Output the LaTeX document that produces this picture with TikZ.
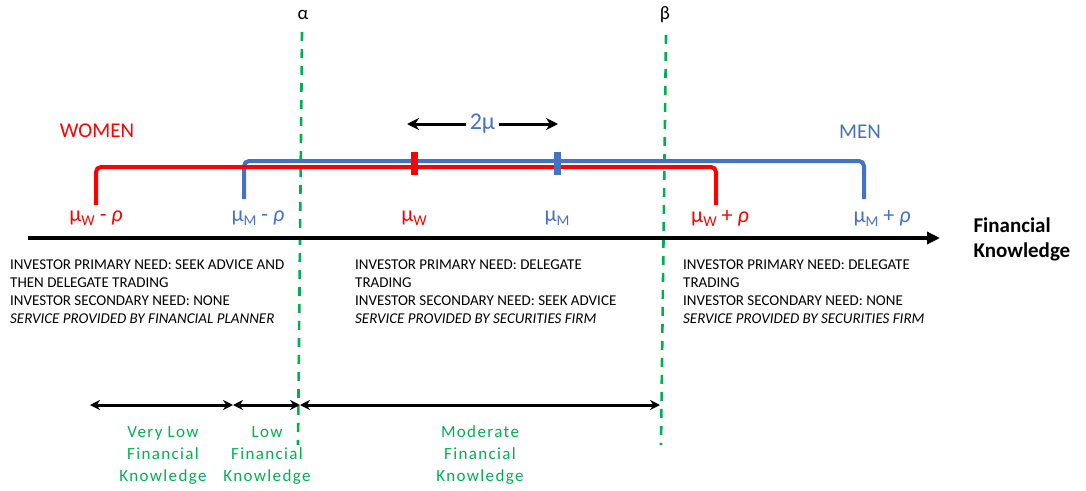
\documentclass[tikz,border=0pt]{standalone}
\usepackage{fontspec}
\setmainfont{Carlito}
\usetikzlibrary{arrows.meta}
\definecolor{wred}{RGB}{255,0,0}
\definecolor{mblue}{RGB}{68,114,196}
\definecolor{kgreen}{RGB}{0,176,80}
\newcommand{\lowsub}[1]{\raisebox{-4pt}{\fontsize{15}{16}\selectfont #1}}

\begin{document}
\begin{tikzpicture}[x=1pt,y=-1pt,
		axis/.style={line width=3.6pt,-{Triangle[length=13pt,width=12pt]}},
		kspan/.style={line width=3pt,{Stealth[length=10pt,width=10pt]}-{Stealth[length=10pt,width=10pt]}},
		level/.style={kgreen,dash pattern=on 9pt off 8pt,line width=2.6pt},
		bracket/.style={line width=4pt,rounded corners=5pt},
		tickbar/.style={line width=7pt},
		lbl/.style={font=\fontsize{22}{24}\selectfont},
		need/.style={anchor=north west,align=left,inner sep=0pt,font=\fontsize{15}{17.7}\selectfont},
		klabel/.style={kgreen,align=center,font=\fontsize{17}{22}\selectfont\addfontfeatures{LetterSpace=8}}]
			\useasboundingbox (0,0) rectangle (1086,490);
			\coordinate (O) at (28,238);
			\coordinate (E) at (940,238);
			\coordinate (aT) at (302,32);
			\coordinate (aB) at (298,445);
			\coordinate (bT) at (666,35);
			\coordinate (bB) at (661,445);
			\coordinate (Wl) at (96,205);
			\coordinate (Wr) at (716,205);
			\coordinate (Ml) at (244,199);
			\coordinate (Mr) at (864,199);
			\coordinate (muW) at (414,152);
			\coordinate (muM) at (557,152);
			\coordinate (dL) at (407,124);
			\coordinate (dR) at (558,124);
			\coordinate (k0) at (90,405);
			\coordinate (k1) at (233,405);
			\coordinate (k2) at (300,405);
			\coordinate (k3) at (660,405);
			\draw[level] (aT)--(aB);
			\draw[level] (bT)--(bB);
			\node (alpha) at (303,15) [font=\fontsize{19}{20}\selectfont]{α};
			\node (beta) at (665,15) [font=\fontsize{19}{20}\selectfont]{β};
			\draw[axis] (O)--(E);
			\draw[bracket,mblue] (Ml)--++(0,-38) -| (Mr);
			\draw[bracket,wred] (Wl)--++(0,-38) -| (Wr);
			\draw[tickbar,wred] (muW)--++(0,23);
			\draw[tickbar,mblue] (muM)--++(0,23);
			\draw[line width=3pt,{Stealth[length=12pt,width=12pt]}-{Stealth[length=12pt,width=12pt]}] (dL)--node[fill=white,inner xsep=4pt,text=mblue,font=\fontsize{24}{25}\selectfont] (twomu){2μ} (dR);
			\node (women) at (97,131) [wred,font=\fontsize{21}{22}\selectfont]{WOMEN};
			\node (men) at (860,132) [mblue,font=\fontsize{21}{22}\selectfont]{MEN};
			\node (wlo) at (96,218) [lbl,wred]{μ\lowsub{W} - {\itshape ρ}};
			\node (mlo) at (258,218) [lbl,mblue]{μ\lowsub{M} - {\itshape ρ}};
			\node (wmid) at (414,218) [lbl,wred]{μ\lowsub{W}};
			\node (mmid) at (557,218) [lbl,mblue]{μ\lowsub{M}};
			\node (whi) at (720,218) [lbl,wred]{μ\lowsub{W} + {\itshape ρ}};
			\node (mhi) at (882,218) [lbl,mblue]{μ\lowsub{M} + {\itshape ρ}};
			\node (fk) at (970,239) [anchor=west,align=left,font=\bfseries\fontsize{21}{25}\selectfont]{Financial\\Knowledge};
			\node (lowneed) at (10,260) [need]{INVESTOR PRIMARY NEED: SEEK ADVICE AND\\THEN DELEGATE TRADING\\INVESTOR SECONDARY NEED: NONE\\\textit{SERVICE PROVIDED BY FINANCIAL PLANNER}};
			\node (midneed) at (355,260) [need]{INVESTOR PRIMARY NEED: DELEGATE\\TRADING\\INVESTOR SECONDARY NEED: SEEK ADVICE\\\textit{SERVICE PROVIDED BY SECURITIES FIRM}};
			\node (hineed) at (683,260) [need]{INVESTOR PRIMARY NEED: DELEGATE\\TRADING\\INVESTOR SECONDARY NEED: NONE\\\textit{SERVICE PROVIDED BY SECURITIES FIRM}};
			\draw[kspan] (k0)--(k1);
			\draw[kspan] (k1)--(k2);
			\draw[kspan] (k2)--(k3);
			\node (vlow) at (163,455) [klabel]{Very Low\\Financial\\Knowledge};
			\node (low) at (267,455) [klabel]{Low\\Financial\\Knowledge};
			\node (mod) at (480,455) [klabel]{Moderate\\Financial\\Knowledge};
		\end{tikzpicture}
\end{document}
